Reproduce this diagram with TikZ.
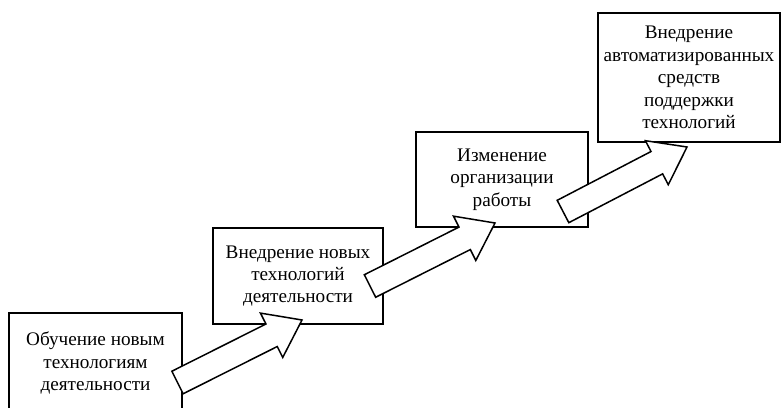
\documentclass[tikz,border=0pt]{standalone}
\usepackage{fontspec}
\setmainfont{Liberation Serif}
\usetikzlibrary{calc}
\newcommand{\stagearrow}[2]{%
  \draw[fill=white,line join=miter] ($(#1)!6.3pt!90:(#2)$) -- ($($(#2)!17pt!(#1)$)!6.3pt!90:(#2)$)
    -- ($($(#2)!17pt!(#1)$)!12.4pt!90:(#2)$) -- (#2)
    -- ($($(#2)!17pt!(#1)$)!12.4pt!-90:(#2)$) -- ($($(#2)!17pt!(#1)$)!6.3pt!-90:(#2)$)
    -- ($(#1)!6.3pt!-90:(#2)$) -- cycle;}

\begin{document}
\begin{tikzpicture}[x=0.5pt,y=-0.5pt,line width=0.75pt,
  stage/.style={draw,align=center,inner sep=0pt,font=\fontsize{9.6}{11.2}\selectfont}]
\clip (0,0) rectangle (781,407);
\node[stage,minimum width=86.5pt,minimum height=50pt] (learn) at (95.5,363) {Обучение новым\\технологиям\\деятельности};
\node[stage,minimum width=85pt,minimum height=48pt] (introduce) at (298,276) {Внедрение новых\\технологий\\деятельности};
\node[stage,minimum width=86pt,minimum height=47.5pt] (reorg) at (502,179.5) {Изменение\\организации\\работы};
\node[stage,minimum width=91pt,minimum height=64.5pt] (automate) at (689,77.5) {Внедрение\\автоматизированных\\средств\\поддержки\\технологий};
% arrows between stages
\coordinate (t1) at (177.5,382.5); \coordinate (h1) at (302,320);
\coordinate (t2) at (370,286);     \coordinate (h2) at (495,223);
\coordinate (t3) at (563,211.5);   \coordinate (h3) at (687,147);
\stagearrow{t1}{h1} \stagearrow{t2}{h2} \stagearrow{t3}{h3}
\end{tikzpicture}
\end{document}
